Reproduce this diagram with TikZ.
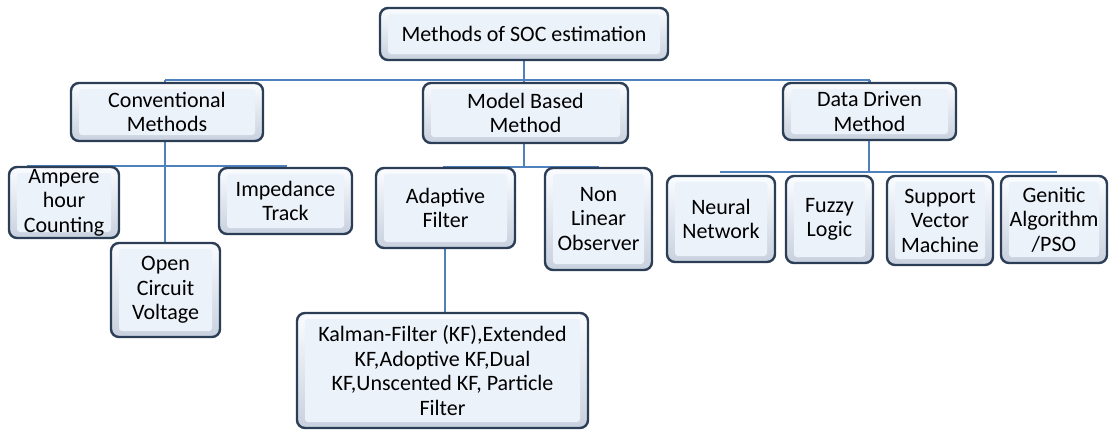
\documentclass[tikz,border=0pt]{standalone}
\usepackage{fontspec}
\setmainfont{Carlito}
\usetikzlibrary{backgrounds}
\definecolor{linkblue}{RGB}{79,129,189}
\definecolor{cardedge}{RGB}{44,62,86}
\definecolor{cardtop}{RGB}{250,252,255}
\definecolor{cardbottom}{RGB}{200,209,222}
\definecolor{cardface}{RGB}{236,242,250}
\begin{document}
\begin{tikzpicture}[x=1pt,y=-1pt,
  link/.style={draw=linkblue, line width=2.8pt},
  card/.style={draw=cardedge, line width=2.4pt,
    rounded corners=8pt, align=center, inner sep=0pt,
    font=\fontsize{22}{24.5}\selectfont,
    top color=cardtop, bottom color=cardbottom,
    path picture={
      \fill[cardface, rounded corners=3pt]
        ([shift={(8pt,-6pt)}]path picture bounding box.north west)
        rectangle ([shift={(-8pt,6pt)}]path picture bounding box.south east);
    }},
  bx/.style 2 args={card, minimum width=#1pt, minimum height=#2pt}]
\useasboundingbox (0,0) rectangle (1113,432);

% cards
\node[bx={288}{52}] (root) at (524,34) {Methods of SOC estimation};
\node[bx={192}{58}] (conv) at (167,112) {Conventional\\Methods};
\node[bx={205}{60}] (model) at (525.5,113) {Model Based\\Method};
\node[bx={173}{57}] (data) at (869.5,111.5) {Data Driven\\Method};

\node[bx={110}{71}] (amp) at (64,202.5) {Ampere\\hour\\Counting};
\node[bx={133}{66}] (imp) at (285.5,201) {Impedance\\Track};
\node[bx={109}{94}] (ocv) at (165.5,290) {Open\\Circuit\\Voltage};

\node[bx={139}{80}] (adapt) at (445.5,208) {Adaptive\\Filter};
\node[bx={107}{102}] (nlo) at (598.5,219) {Non\\Linear\\Observer};
\node[bx={291}{115}] (kf) at (442.5,370.5) {Kalman-Filter (KF),Extended\\KF,Adoptive KF,Dual\\KF,Unscented KF, Particle\\Filter};

\node[bx={108}{86}] (nn) at (721,219) {Neural\\Network};
\node[bx={87}{87}] (fl) at (829.5,219.5) {Fuzzy\\Logic};
\node[bx={106}{89}] (svm) at (940,220.5) {Support\\Vector\\Machine};
\node[bx={106}{87}] (ga) at (1054,219.5) {Genitic\\Algorithm\\/PSO};

% bus bars of the tree
\coordinate (barL) at (165,80);
\coordinate (barR) at (870,80);
\coordinate (cbL) at (27,166);
\coordinate (cbR) at (287,166);
\coordinate (cbM) at (165,166);
\coordinate (mbL) at (443,167);
\coordinate (mbR) at (599,167);
\coordinate (mbM) at (524,167);
\coordinate (dbL) at (720,172);
\coordinate (dbR) at (1057,172);
\coordinate (dbM) at (869,172);

% connectors, beneath the cards
\begin{scope}[on background layer]
\path[link] (root.south) -- (root.south |- barL);
\path[link] (barL) -- (barR);
\path[link] (barL) -- (barL |- conv.north);
\path[link] (barR -| data.north) -- (data.north);
\path[link] (barL -| mbM) -- (model.north -| mbM);

\path[link] (cbL) -- (cbR);
\path[link] (conv.south -| cbM) -- (ocv.north -| cbM);

\path[link] (mbL) -- (mbR);
\path[link] (model.south -| mbM) -- (mbM);
\path[link] (adapt.south -| 445,0) -- (kf.north -| 445,0);

\path[link] (dbL) -- (dbR);
\path[link] (data.south -| dbM) -- (dbM);
\end{scope}
\end{tikzpicture}
\end{document}
